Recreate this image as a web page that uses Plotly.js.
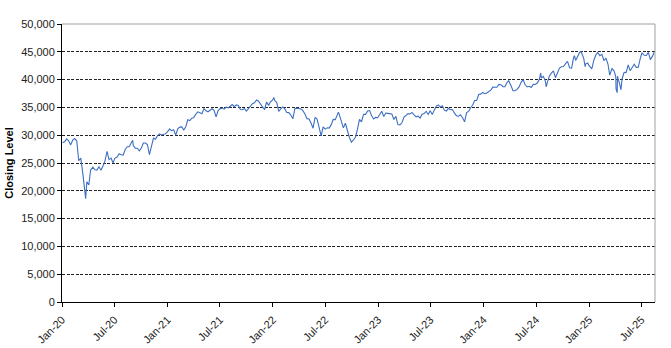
<!DOCTYPE html>
<html>
<head>
<meta charset="utf-8">
<script src="https://cdn.plot.ly/plotly-3.0.1.min.js"></script>
<style>
  html, body { margin: 0; padding: 0; background: #ffffff; }
  #chart { width: 671px; height: 348px; }
</style>
</head>
<body>
<div id="chart"></div>
<script>
// Approximate closing levels (roughly weekly)
const dates2020 = ["2020-01-03","2020-01-10","2020-01-17","2020-01-24","2020-01-31","2020-02-07","2020-02-14","2020-02-21","2020-02-28","2020-03-06","2020-03-13","2020-03-20","2020-03-23","2020-03-27","2020-04-03","2020-04-09","2020-04-17","2020-04-24","2020-05-01","2020-05-08","2020-05-15","2020-05-22","2020-05-29","2020-06-05","2020-06-12","2020-06-19","2020-06-26","2020-07-02","2020-07-10","2020-07-17","2020-07-24","2020-07-31","2020-08-07","2020-08-14","2020-08-21","2020-08-28","2020-09-02","2020-09-04","2020-09-11","2020-09-18","2020-09-25","2020-10-02","2020-10-09","2020-10-16","2020-10-23","2020-10-30","2020-11-06","2020-11-13","2020-11-20","2020-11-27","2020-12-04","2020-12-11","2020-12-18","2020-12-24","2020-12-31"];
const close2020 = [28635,28824,29348,28990,28256,29103,29398,28992,25409,25865,23186,19174,18592,21637,21053,23719,24242,23775,23724,24331,23685,24465,25383,27111,25605,25871,25016,25827,26075,26672,26470,26428,27433,27931,27930,28654,29100,28133,27666,27657,27174,27683,28587,28606,28336,26502,28323,29480,29263,29910,30218,30046,30179,30200,30606];

const dates2021 = ["2021-01-08","2021-01-15","2021-01-22","2021-01-29","2021-02-05","2021-02-12","2021-02-19","2021-02-26","2021-03-05","2021-03-12","2021-03-19","2021-03-26","2021-04-01","2021-04-09","2021-04-16","2021-04-23","2021-04-30","2021-05-07","2021-05-14","2021-05-21","2021-05-28","2021-06-04","2021-06-11","2021-06-18","2021-06-25","2021-07-02","2021-07-09","2021-07-16","2021-07-23","2021-07-30","2021-08-06","2021-08-13","2021-08-20","2021-08-27","2021-09-03","2021-09-10","2021-09-17","2021-09-24","2021-10-01","2021-10-08","2021-10-15","2021-10-22","2021-10-29","2021-11-05","2021-11-12","2021-11-19","2021-11-26","2021-12-03","2021-12-10","2021-12-17","2021-12-23","2021-12-31"];
const close2021 = [31098,30814,30997,29983,31148,31458,31494,30932,31496,32779,32628,33072,33153,33801,34200,34043,33875,34778,34382,34208,34529,34756,34480,33290,34433,34786,34870,34687,35062,34935,35209,35515,35120,35456,35369,34608,34584,34798,34326,34746,35295,35677,35820,36328,36100,35602,34899,34580,35971,35365,35951,36338];

const dates2022 = ["2022-01-04","2022-01-07","2022-01-14","2022-01-21","2022-01-28","2022-02-04","2022-02-11","2022-02-18","2022-02-25","2022-03-04","2022-03-11","2022-03-18","2022-03-25","2022-04-01","2022-04-08","2022-04-14","2022-04-22","2022-04-29","2022-05-06","2022-05-13","2022-05-20","2022-05-27","2022-06-03","2022-06-10","2022-06-17","2022-06-24","2022-07-01","2022-07-08","2022-07-15","2022-07-22","2022-07-29","2022-08-05","2022-08-12","2022-08-16","2022-08-19","2022-08-26","2022-09-02","2022-09-09","2022-09-16","2022-09-23","2022-09-30","2022-10-07","2022-10-14","2022-10-21","2022-10-28","2022-11-04","2022-11-11","2022-11-18","2022-11-25","2022-12-02","2022-12-09","2022-12-16","2022-12-23","2022-12-30"];
const close2022 = [36800,36231,35912,34265,34725,35090,34738,34079,34059,33615,32945,34755,34862,34818,34721,34451,33811,32977,32899,32197,31262,33213,32900,31393,29888,31501,31097,31338,31288,31899,32845,32803,33761,34152,33706,32283,31318,32151,30822,29590,28726,29297,29635,31082,32861,32403,33747,33746,34347,34430,33476,32920,33203,33147];

const dates2023 = ["2023-01-06","2023-01-13","2023-01-20","2023-01-27","2023-02-03","2023-02-10","2023-02-17","2023-02-24","2023-03-03","2023-03-10","2023-03-17","2023-03-24","2023-03-31","2023-04-06","2023-04-14","2023-04-21","2023-04-28","2023-05-05","2023-05-12","2023-05-19","2023-05-26","2023-06-02","2023-06-09","2023-06-16","2023-06-23","2023-06-30","2023-07-07","2023-07-14","2023-07-21","2023-07-28","2023-08-04","2023-08-11","2023-08-18","2023-08-25","2023-09-01","2023-09-08","2023-09-15","2023-09-22","2023-09-29","2023-10-06","2023-10-13","2023-10-20","2023-10-27","2023-11-03","2023-11-10","2023-11-17","2023-11-24","2023-12-01","2023-12-08","2023-12-15","2023-12-22","2023-12-29"];
const close2023 = [33631,34302,33375,33978,33926,33869,33827,32817,33391,31910,31862,32238,33274,33485,33886,33809,34098,33674,33300,33427,33093,33762,33877,34299,33727,34408,33734,34509,35228,35459,35065,35281,34500,34346,34837,34577,34618,33964,33508,33407,33670,33127,32418,34061,34283,34947,35390,36246,36247,37305,37385,37690];

const dates2024 = ["2024-01-05","2024-01-12","2024-01-19","2024-01-26","2024-02-02","2024-02-09","2024-02-16","2024-02-23","2024-03-01","2024-03-08","2024-03-15","2024-03-22","2024-03-28","2024-04-05","2024-04-12","2024-04-19","2024-04-26","2024-05-03","2024-05-10","2024-05-17","2024-05-24","2024-05-31","2024-06-07","2024-06-14","2024-06-21","2024-06-28","2024-07-05","2024-07-12","2024-07-17","2024-07-19","2024-07-26","2024-08-02","2024-08-05","2024-08-09","2024-08-16","2024-08-23","2024-08-30","2024-09-06","2024-09-13","2024-09-20","2024-09-27","2024-10-04","2024-10-11","2024-10-18","2024-10-25","2024-11-01","2024-11-08","2024-11-11","2024-11-15","2024-11-22","2024-11-29","2024-12-04","2024-12-06","2024-12-13","2024-12-18","2024-12-20","2024-12-27","2024-12-31"];
const close2024 = [37466,37593,37863,38109,38654,38671,38628,39131,39087,38723,38715,39476,39807,38904,37983,37986,38240,38676,39513,40004,39070,38686,38799,38589,39150,39119,39376,40001,41198,40288,40590,39737,38703,39498,40660,41175,41563,40345,41394,42063,42314,42353,42864,43276,42115,42052,43989,44293,43445,44297,44911,45014,44643,43828,42327,42840,42992,42544];

const dates2025 = ["2025-01-10","2025-01-17","2025-01-24","2025-01-30","2025-02-07","2025-02-14","2025-02-21","2025-02-28","2025-03-07","2025-03-13","2025-03-21","2025-03-28","2025-04-03","2025-04-04","2025-04-08","2025-04-09","2025-04-11","2025-04-17","2025-04-21","2025-04-25","2025-05-02","2025-05-09","2025-05-16","2025-05-23","2025-05-30","2025-06-06","2025-06-13","2025-06-20","2025-06-27","2025-07-03","2025-07-11","2025-07-18","2025-07-25","2025-08-01","2025-08-08","2025-08-14"];
const close2025 = [41938,43488,44424,44882,44303,44546,43428,43841,42801,40813,41985,41583,40545,38314,37645,40608,40212,39142,38170,40113,41317,41249,42655,41603,42270,42763,42197,42207,43819,44828,44372,44342,44902,43589,44176,44911];

const dates = [].concat(dates2020, dates2021, dates2022, dates2023, dates2024, dates2025);
const closes = [].concat(close2020, close2021, close2022, close2023, close2024, close2025);

const yTickVals = [0,5000,10000,15000,20000,25000,30000,35000,40000,45000,50000];
const yTickText = ["0","5,000","10,000","15,000","20,000","25,000","30,000","35,000","40,000","45,000","50,000"];

const trace = {
  x: dates,
  y: closes,
  type: "scatter",
  mode: "lines",
  line: { color: "#3d6fc2", width: 1.1 },
  hoverinfo: "x+y"
};

const layout = {
  width: 671,
  height: 348,
  margin: { l: 62, r: 16, t: 24, b: 46 },
  paper_bgcolor: "#ffffff",
  plot_bgcolor: "#ffffff",
  showlegend: false,
  font: { family: "Liberation Sans, Arial, sans-serif", size: 11, color: "#222222" },
  xaxis: {
    type: "date",
    range: ["2020-01-01", "2025-08-17"],
    tick0: "2020-01-01",
    dtick: "M6",
    tickformat: "%b-%y",
    tickangle: -45,
    ticks: "outside",
    ticklen: 4,
    tickcolor: "#000000",
    ticklabelstandoff: 2,
    showgrid: false,
    showline: true,
    linecolor: "#000000",
    linewidth: 1,
    zeroline: false,
    tickfont: { size: 11, color: "#222222" }
  },
  yaxis: {
    range: [0, 50000],
    tickmode: "array",
    tickvals: yTickVals,
    ticktext: yTickText,
    ticks: "outside",
    ticklen: 4,
    tickcolor: "#000000",
    showline: true,
    linecolor: "#000000",
    linewidth: 1,
    zeroline: false,
    showgrid: true,
    gridcolor: "#222222",
    gridwidth: 1,
    griddash: "3px,1.5px",
    tickfont: { size: 11, color: "#222222" },
    title: { text: "<b>Closing Level</b>", font: { size: 11, color: "#000000" }, standoff: 5 }
  },
  shapes: [
    { type: "line", xref: "paper", yref: "paper", x0: 0, x1: 1, y0: 1, y1: 1, line: { color: "#a0a0a0", width: 1 }, layer: "above" },
    { type: "line", xref: "paper", yref: "paper", x0: 1, x1: 1, y0: 0, y1: 1, line: { color: "#a0a0a0", width: 1 }, layer: "above" }
  ]
};

Plotly.newPlot("chart", [trace], layout, { displayModeBar: false, staticPlot: true });
</script>
</body>
</html>
